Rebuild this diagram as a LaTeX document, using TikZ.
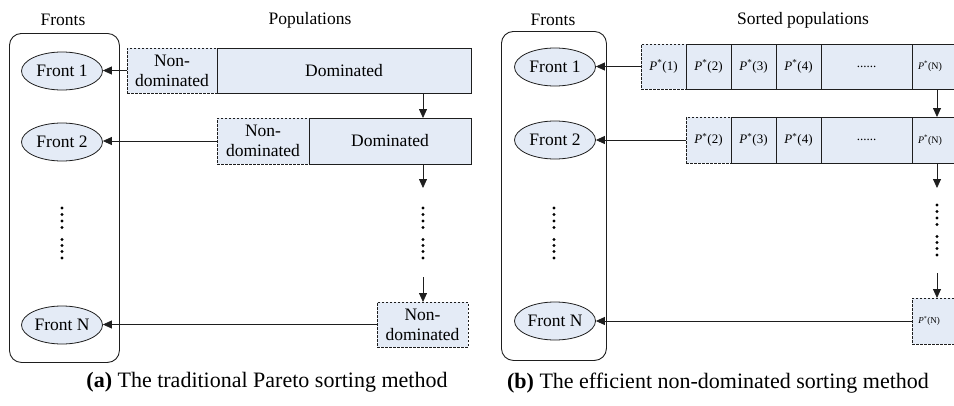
\documentclass[tikz,border=0pt]{standalone}
\usepackage{fontspec}
\setmainfont{Liberation Serif}
\usetikzlibrary{arrows.meta,shapes.geometric,calc}
\definecolor{popfill}{RGB}{228,235,246}
\definecolor{edge}{RGB}{30,30,30}
\newcommand{\Pst}[1]{\textit{P}\textsuperscript{*}(#1)}
\begin{document}
\begin{tikzpicture}[x=1pt,y=-1pt,
  every node/.style={font=\fontsize{17.5}{20}\selectfont},
  head/.style={inner sep=0},
  caption/.style={inner sep=0,font=\fontsize{22}{26}\selectfont},
  frame/.style={draw=edge,line width=0.9pt,rounded corners=12pt,anchor=north west,inner sep=0},
  front/.style={ellipse,draw=edge,fill=popfill,line width=0.8pt,minimum width=81pt,minimum height=38pt,inner sep=0},
  cell/.style={draw=edge,fill=popfill,line width=0.8pt,anchor=north west,inner sep=0,outer sep=0,align=center},
  dcell/.style={cell,dashed,dash pattern=on 2.5pt off 1.5pt},
  ptext/.style={inner sep=0,font=\fontsize{13}{15}\selectfont},
  pNtext/.style={inner sep=0,font=\fontsize{10}{12}\selectfont},
  arr/.style={-{Triangle[length=9pt,width=8pt]},line width=0.8pt,draw=edge},
  dot/.style={fill=black,draw=none,circle,minimum size=3.4pt,inner sep=0}
]
\useasboundingbox (0,0) rectangle (954,405);

% ---------------- (a) traditional Pareto sorting ----------------
\node[head] (hfa) at (63,20) {Fronts};
\node[head] (hpa) at (310,20) {Populations};
\node[frame,minimum width=110pt,minimum height=329pt] (frA) at (9,33) {};
\node[front] (fA1) at (62,71) {Front 1};
\node[front] (fA2) at (62,142) {Front 2};
\node[front] (fAN) at (62,325) {Front N};
\foreach \yy in {208,214.5,221,227.5,239.5,245.5,251.5,258}
  \node[dot] at (62,\yy) {};

% population rows
\node[dcell,minimum width=90pt,minimum height=45pt] (nd1) at (127,48) {Non-\\dominated};
\node[cell,minimum width=254pt,minimum height=45pt] (dom1) at (217,48) {Dominated};
\node[dcell,minimum width=92pt,minimum height=46pt] (nd2) at (217,118) {Non-\\dominated};
\node[cell,minimum width=162pt,minimum height=46pt] (dom2) at (309,118) {Dominated};
\node[dcell,minimum width=91pt,minimum height=45pt] (ndN) at (377,302) {Non-\\dominated};

% vertical flow
\coordinate (ca) at (423,0);
\coordinate (ca1) at (423,188);
\coordinate (ca2) at (423,277);
\draw[arr] (ca |- dom1.south) -- (ca |- dom2.north);
\draw[arr] (ca |- dom2.south) -- (ca1);
\draw[arr] (ca2) -- (ca |- ndN.north);
\foreach \yy in {208,214.5,221,227.5,239.5,245.5,251.5,258}
  \node[dot] at (423,\yy) {};

% to the fronts
\draw[arr] (nd1.west) -- (nd1.west -| fA1.east);
\draw[arr] (nd2.west) -- (nd2.west -| fA2.east);
\draw[arr] (ndN.west) -- (ndN.west -| fAN.east);

\node[caption] (capa) at (267,382) {\textbf{(a)} The traditional Pareto sorting method};

% ---------------- (b) efficient non-dominated sorting ----------------
\node[head] (hfb) at (553,20) {Fronts};
\node[head] (hpb) at (803,20) {Sorted populations};
\node[frame,minimum width=105pt,minimum height=329pt] (frB) at (501,31) {};
\node[front] (fB1) at (555,67) {Front 1};
\node[front] (fB2) at (555,140) {Front 2};
\node[front] (fBN) at (555,321) {Front N};
\foreach \yy in {208,214.5,221,227.5,239.5,245.5,251.5,258}
  \node[dot] at (554,\yy) {};

% first sorted row
\node[dcell,ptext,minimum width=45pt,minimum height=45pt] (p11) at (641,44) {\Pst{1}};
\node[cell,ptext,minimum width=45pt,minimum height=45pt] (p12) at (686,44) {\Pst{2}};
\node[cell,ptext,minimum width=45pt,minimum height=45pt] (p13) at (731,44) {\Pst{3}};
\node[cell,ptext,minimum width=45pt,minimum height=45pt] (p14) at (776,44) {\Pst{4}};
\node[cell,ptext,minimum width=91pt,minimum height=45pt] (p1d) at (821,44) {......};
\node[cell,minimum width=50pt,minimum height=45pt] (p1N) at (912,44) {};
\node[pNtext] at ($(p1N.west)+(18,0)$) {\Pst{N}};

% second sorted row
\node[dcell,ptext,minimum width=45pt,minimum height=46pt] (p22) at (686,117) {\Pst{2}};
\node[cell,ptext,minimum width=45pt,minimum height=46pt] (p23) at (731,117) {\Pst{3}};
\node[cell,ptext,minimum width=45pt,minimum height=46pt] (p24) at (776,117) {\Pst{4}};
\node[cell,ptext,minimum width=91pt,minimum height=46pt] (p2d) at (821,117) {......};
\node[cell,minimum width=50pt,minimum height=46pt] (p2N) at (912,117) {};
\node[pNtext] at ($(p2N.west)+(18,0)$) {\Pst{N}};

% last row
\node[dcell,minimum width=50pt,minimum height=46pt] (pNN) at (912,298) {};
\node[inner sep=0,font=\fontsize{9}{11}\selectfont] at ($(pNN.west)+(17,0)$) {\Pst{N}};

% vertical flow
\coordinate (cb1) at (937,188);
\coordinate (cb2) at (937,273);
\draw[arr] (p1N.south) -- (p2N.north);
\draw[arr] (p2N.south) -- (cb1);
\draw[arr] (cb2) -- (cb2 |- pNN.north);
\foreach \yy in {205,211.5,218,224.5,236.5,242.5,248.5,255}
  \node[dot] at (937,\yy) {};

% to the fronts
\draw[arr] (p11.west) -- (p11.west -| fB1.east);
\draw[arr] (p22.west) -- (p22.west -| fB2.east);
\draw[arr] (pNN.west) -- (pNN.west -| fBN.east);

\node[caption] (capb) at (718,383) {\textbf{(b)} The efficient non-dominated sorting method};
\end{tikzpicture}
\end{document}
